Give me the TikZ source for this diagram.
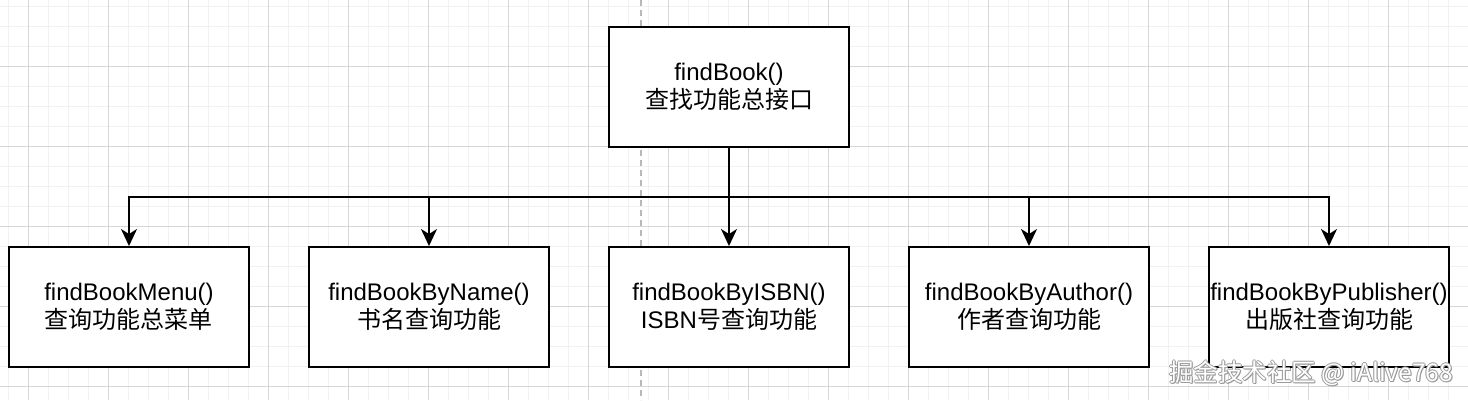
\documentclass[tikz,border=0pt]{standalone}
\usepackage{fontspec}
\setmainfont{Liberation Sans}
\newfontfamily\cjk{Noto Sans CJK SC}
\usetikzlibrary{arrows.meta}
\definecolor{gridminor}{HTML}{F1F1F1}
\definecolor{gridmajor}{HTML}{D6D6D6}
\definecolor{dashgray}{HTML}{B8B8B8}
\definecolor{wmshadow}{HTML}{9A9A9A}
\tikzset{
  fbox/.style={draw=black, line width=2pt, fill=white, minimum width=240pt, minimum height=120pt,
    inner sep=0pt, align=center, font=\fontsize{24}{28.5}\selectfont},
  conn/.style={draw=black, line width=2pt, -{Stealth[length=17pt,width=16pt,inset=5pt]}},
  wmtext/.style={font=\cjk\fontsize{24.5}{26}\selectfont, inner sep=0pt, anchor=east}
}
\begin{document}
\begin{tikzpicture}[x=1pt,y=-1pt]
\useasboundingbox (0,0) rectangle (1468,400);
\fill[white] (0,0) rectangle (1468,400);
% grid
\foreach \gx in {8,28,...,1468} \draw[gridminor, line width=1pt] (\gx,0) -- (\gx,400);
\foreach \gy in {6,26,...,400} \draw[gridminor, line width=1pt] (0,\gy) -- (1468,\gy);
\foreach \gx in {28,108,...,1468} \draw[gridmajor, line width=1pt] (\gx,0) -- (\gx,400);
\foreach \gy in {66,146,...,400} \draw[gridmajor, line width=1pt] (0,\gy) -- (1468,\gy);
% dashed guide
\draw[dashgray, line width=1.5pt, dash pattern=on 6pt off 4pt] (641,0) -- (641,400);
% boxes
\node[fbox] (top) at (729,87) {findBook()\\{\cjk 查找功能总接口}};
\node[fbox] (m1) at (129,307) {findBookMenu()\\{\cjk 查询功能总菜单}};
\node[fbox] (m2) at (429,307) {findBookByName()\\{\cjk 书名查询功能}};
\node[fbox] (m3) at (729,307) {findBookByISBN()\\ISBN{\cjk 号查询功能}};
\node[fbox] (m4) at (1029,307) {findBookByAuthor()\\{\cjk 作者查询功能}};
\node[fbox] (m5) at (1329,307) {findBookByPublisher()\\{\cjk 出版社查询功能}};
\coordinate (bus) at (729,197);
% connectors
\draw[conn] (top.south) -- (bus) -| (m1.north);
\draw[conn] (top.south) -- (bus) -| (m2.north);
\draw[conn] (top.south) -- (m3.north);
\draw[conn] (top.south) -- (bus) -| (m4.north);
\draw[conn] (top.south) -- (bus) -| (m5.north);
% watermark
\foreach \dx/\dy in {-1/0,1/0,0/-1,0/1,1/1}
  \node[wmtext, text=wmshadow] at (1453+\dx,373+\dy) {掘金技术社区 @ iAlive768};
\node[wmtext, text=white] (wm) at (1453,373) {掘金技术社区 @ iAlive768};
\end{tikzpicture}
\end{document}
